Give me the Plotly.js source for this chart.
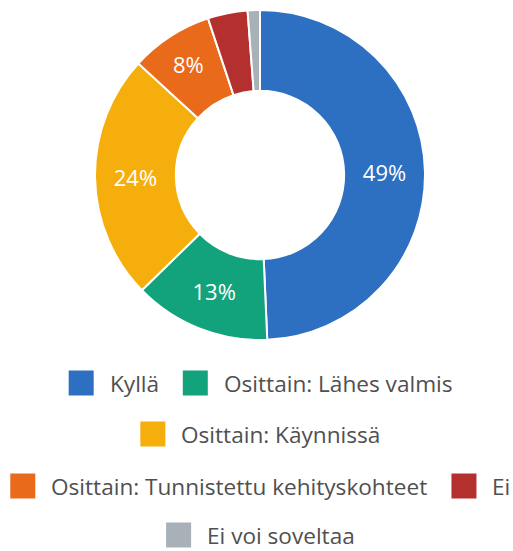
<!DOCTYPE html>
<html>
<head>
<meta charset="utf-8">
<script src="https://cdn.plot.ly/plotly-3.0.1.min.js"></script>
<style>
  html, body { margin: 0; padding: 0; background: #ffffff; }
  #chart { width: 513px; height: 551px; }
</style>
</head>
<body>
<div id="chart"></div>
<script>
// ---- data ----
const labels = [
  "Kyllä",
  "Osittain: Lähes valmis",
  "Osittain: Käynnissä",
  "Osittain: Tunnistettu kehityskohteet",
  "Ei",
  "Ei voi soveltaa"
];
const values = [49.3, 13.4, 24.1, 8.1, 3.9, 1.2];
const colors = ["#2D6FC1", "#12A37C", "#F5AE0B", "#E96A1B", "#B3302E", "#A8B0B8"];
const legendRows = [[0, 1], [2], [3, 4], [5]];

// ---- layout helpers ----
const W = 513, H = 551;
const legendFont = "Open Sans";
const legendSize = 22.6;
const textColor = "#505050";

const total = values.reduce((a, b) => a + b, 0);
const sliceText = values.map(v => (v / total >= 0.05 ? Math.round(v / total * 100) + "%" : ""));

const canvas = document.createElement("canvas");
const ctx = canvas.getContext("2d");
ctx.font = legendSize + "px '" + legendFont + "'";
function textW(s) { return ctx.measureText(s).width; }

const px = x => x / W;
const py = y => 1 - y / H;

const shapes = [];
const annotations = [];
const sq = 25, gapSqText = 15, gapItems = 25;
const rowY = [383, 434, 486, 535];
const centerX = 260;

legendRows.forEach((row, r) => {
  const widths = row.map(i => sq + gapSqText + textW(labels[i]));
  const totalW = widths.reduce((a, b) => a + b, 0) + gapItems * (row.length - 1);
  let x = centerX - totalW / 2;
  const y = rowY[r];
  row.forEach((i, k) => {
    shapes.push({
      type: "rect", xref: "paper", yref: "paper",
      x0: px(x), x1: px(x + sq), y0: py(y + sq / 2), y1: py(y - sq / 2),
      fillcolor: colors[i], line: { width: 0 }
    });
    annotations.push({
      xref: "paper", yref: "paper", x: px(x + sq + gapSqText), y: py(y),
      xanchor: "left", yanchor: "middle", showarrow: false,
      borderpad: 0,
      text: labels[i],
      font: { family: legendFont, size: legendSize, color: textColor }
    });
    x += widths[k] + gapItems;
  });
});

const trace = {
  type: "pie",
  labels: labels,
  values: values,
  text: sliceText,
  textinfo: "text",
  textposition: "inside",
  insidetextorientation: "horizontal",
  hole: 0.51,
  sort: false,
  direction: "clockwise",
  rotation: 0,
  marker: { colors: colors, line: { color: "#ffffff", width: 2 } },
  textfont: { family: legendFont, size: 22, color: "#ffffff" },
  domain: { x: [px(95), px(425)], y: [py(340), py(10)] },
  showlegend: false,
  hoverinfo: "label+percent"
};

const layout = {
  width: W, height: H,
  margin: { l: 0, r: 0, t: 0, b: 0 },
  paper_bgcolor: "#ffffff",
  showlegend: false,
  shapes: shapes,
  annotations: annotations
};

Plotly.newPlot("chart", [trace], layout, { displayModeBar: false, staticPlot: true });
</script>
</body>
</html>
